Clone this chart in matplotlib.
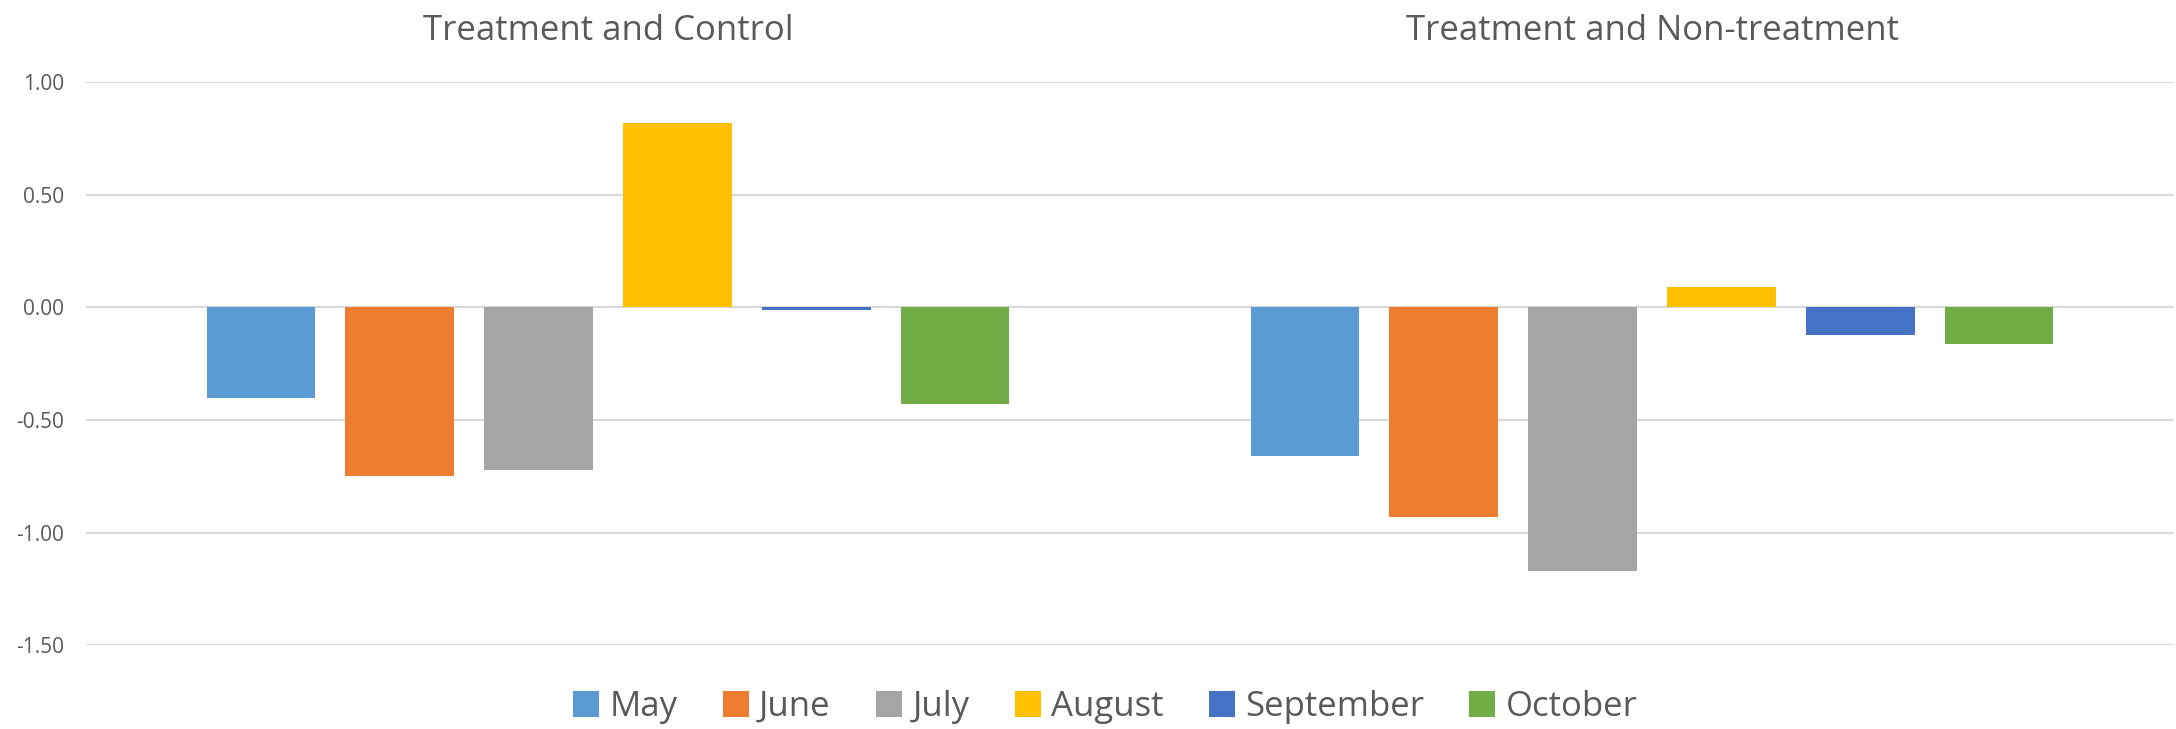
import numpy as np
import matplotlib
matplotlib.use('Agg')
import matplotlib.pyplot as plt
from matplotlib.patches import Patch

# 데이터
groups = ["Treatment and Control", "Treatment and Non-treatment"]
months = ["May", "June", "July", "August", "September", "October"]
colors = ["#5B9BD5", "#ED7D31", "#A5A5A5", "#FFC000", "#4472C4", "#70AD47"]
tc_vals = [-0.40, -0.75, -0.72, 0.82, -0.01, -0.43]
tn_vals = [-0.66, -0.93, -1.17, 0.09, -0.12, -0.16]

plt.rcParams['font.family'] = ['Open Sans', 'DejaVu Sans']
TXT = "#595959"

fig = plt.figure(figsize=(21.76, 7.29), dpi=100)
ax = fig.add_axes([86/2176, 1-645.3/729, (2174-86)/2176, (645.3-82.3)/729])

x = np.arange(len(groups))
step, width = 0.133, 0.104
for i, (m, c) in enumerate(zip(months, colors)):
    vals = [tc_vals[i], tn_vals[i]]
    ax.bar(x + (i - 2.5) * step, vals, width=width, color=c, zorder=3)

ax.set_xlim(-0.5, 1.5)
ax.set_ylim(-1.5, 1.0)
ticks = np.arange(-1.5, 1.01, 0.5)
ax.set_yticks(ticks)
ax.set_yticklabels([f"{v:.2f}" for v in ticks], fontsize=15, color=TXT)
ax.yaxis.grid(True, color="#D9D9D9", linewidth=1.5, zorder=0)
ax.tick_params(axis='y', length=0, pad=16)

ax.xaxis.tick_top()
ax.set_xticks(x)
ax.set_xticklabels(groups, fontsize=25, color=TXT)
ax.tick_params(axis='x', length=0, pad=25)

for s in ax.spines.values():
    s.set_visible(False)

handles = [Patch(facecolor=c, label=m) for m, c in zip(months, colors)]
fig.legend(handles=handles, loc='center', bbox_to_anchor=(0.508, 0.03), ncol=6,
           frameon=False, fontsize=25, labelcolor=TXT, handlelength=0.75, handleheight=0.75,
           handletextpad=0.3, columnspacing=1.3)

plt.savefig("out.png", dpi=100)
plt.close()
